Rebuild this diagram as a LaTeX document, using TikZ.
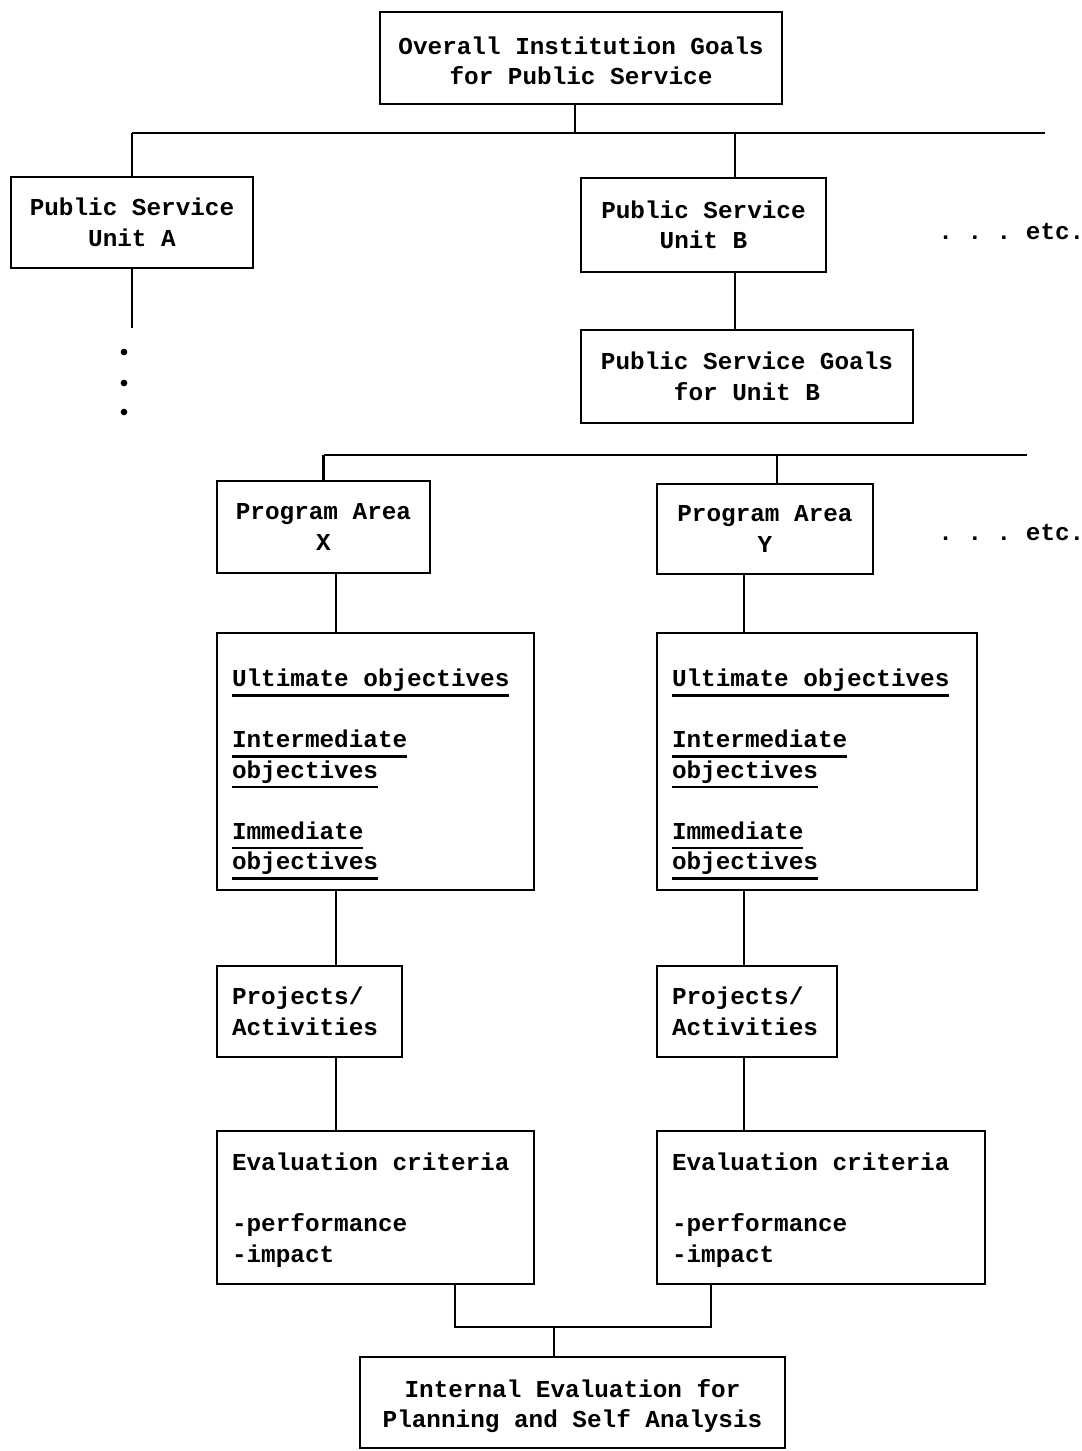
\documentclass[tikz,border=0pt]{standalone}
\usepackage{fontspec}
\setmonofont{Liberation Mono}
% underlined typewriter line
\newcommand\ulx[1]{\leavevmode\setbox0=\hbox{#1}\rlap{\rule[-5.8pt]{\wd0}{1.4pt}}\box0}
% fixed typewriter word space
\newcommand\typewriterspace{\spaceskip=0.6em\relax}
\begin{document}
\begin{tikzpicture}[x=0.6pt,y=-0.6pt,
  every node/.style={font=\ttfamily\bfseries\fontsize{14.6}{18.3}\selectfont,
    execute at begin node=\typewriterspace},
  box/.style={draw, line width=1.6pt, inner sep=0pt, align=center},
  lbox/.style={draw, line width=1.6pt, inner xsep=9pt, inner ysep=0pt, align=left},
  wire/.style={line width=1.3pt},
  etcnote/.style={anchor=west, inner sep=0pt}]
\useasboundingbox (0,0) rectangle (1082,1451);

% top level
\node[box, minimum width=241.2pt, minimum height=55.2pt] (top) at (581,58)
  {\rule{0pt}{14pt}Overall Institution Goals\\for Public Service};
\node[box, minimum width=145.2pt, minimum height=54.6pt] (unitA) at (132,222.5)
  {Public Service\\Unit A};
\node[box, minimum width=147pt, minimum height=56.4pt] (unitB) at (703.5,225)
  {Public Service\\Unit B};
\node[etcnote] (etc1) at (938,232) {. . . etc.};
\node[box, minimum width=199.2pt, minimum height=55.8pt] (goalsB) at (747,376.5)
  {Public Service Goals\\for Unit B};

% program areas
\node[box, minimum width=127.8pt, minimum height=55.2pt] (paX) at (323.5,527)
  {Program Area\\X};
\node[box, minimum width=129.6pt, minimum height=54pt] (paY) at (765,529)
  {Program Area\\Y};
\node[etcnote] (etc2) at (938,533) {. . . etc.};

% objectives
\node[lbox, text width=172.2pt, minimum height=154.2pt] (objX) at (375.5,761.5)
  {\rule{0pt}{26pt}\ulx{Ultimate objectives}\\[18.3pt]
   \ulx{Intermediate}\\\ulx{objectives}\\[18.3pt]
   \ulx{Immediate}\\\ulx{objectives}};
\node[lbox, text width=174pt, minimum height=154.2pt] (objY) at (817,761.5)
  {\rule{0pt}{26pt}\ulx{Ultimate objectives}\\[18.3pt]
   \ulx{Intermediate}\\\ulx{objectives}\\[18.3pt]
   \ulx{Immediate}\\\ulx{objectives}};

% projects
\node[lbox, text width=93pt, minimum height=54.6pt] (prX) at (309.5,1011.5)
  {Projects/\\Activities};
\node[lbox, text width=90pt, minimum height=54.6pt] (prY) at (747,1011.5)
  {Projects/\\Activities};

% evaluation criteria
\node[lbox, text width=172.2pt, minimum height=91.8pt] (evX) at (375.5,1207.5)
  {\rule{0pt}{14pt}Evaluation criteria\\[18.3pt]-performance\\-impact};
\node[lbox, text width=178.8pt, minimum height=91.8pt] (evY) at (821,1207.5)
  {\rule{0pt}{14pt}Evaluation criteria\\[18.3pt]-performance\\-impact};

% final
\node[box, minimum width=255pt, minimum height=54.6pt] (fin) at (572.5,1402.5)
  {\rule{0pt}{15pt}Internal Evaluation for\\Planning and Self Analysis};

% junction points
\coordinate (j1T) at (575,133);
\coordinate (j1L) at (132,133);
\coordinate (j1B) at (735,133);
\coordinate (j1R) at (1045,133);
\coordinate (aEnd) at (132,328);
\coordinate (j2L) at (323.5,455);
\coordinate (j2Y) at (777,455);
\coordinate (j2R) at (1027,455);
\coordinate (cX) at (336,600);
\coordinate (cY) at (744,600);
\coordinate (mL) at (455,1327);
\coordinate (mC) at (554,1327);
\coordinate (mR) at (711,1327);

% connectors
\draw[wire] (j1T |- top.south) -- (j1T);
\draw[wire] (j1L) -- (j1R);
\draw[wire] (j1L) -- (unitA.north);
\draw[wire] (j1B) -- (j1B |- unitB.north);
\draw[wire] (unitA.south) -- (aEnd);
\draw[wire] (j1B |- unitB.south) -- (j1B |- goalsB.north);

\draw[wire] (j2L) -- (j2R);
\draw[wire] (j2L) -- (paX.north);
\draw[wire] (j2Y) -- (j2Y |- paY.north);

\draw[wire] (cX |- paX.south) -- (cX |- objX.north);
\draw[wire] (cX |- objX.south) -- (cX |- prX.north);
\draw[wire] (cX |- prX.south) -- (cX |- evX.north);
\draw[wire] (cY |- paY.south) -- (cY |- objY.north);
\draw[wire] (cY |- objY.south) -- (cY |- prY.north);
\draw[wire] (cY |- prY.south) -- (cY |- evY.north);

\draw[wire] (mL |- evX.south) -- (mL) -- (mR) -- (mR |- evY.south);
\draw[wire] (mC) -- (mC |- fin.north);

% continuation dots under unit A
\fill (124,352) circle (2pt);
\fill (124,383) circle (2pt);
\fill (124,412) circle (2pt);
\end{tikzpicture}
\end{document}
